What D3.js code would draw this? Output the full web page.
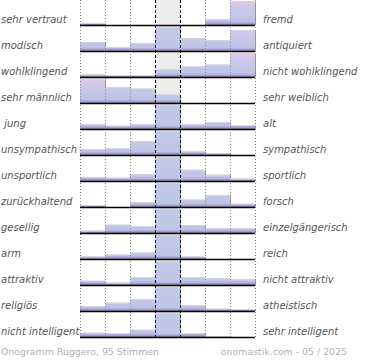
<!DOCTYPE html>
<html><head><meta charset="utf-8">
<script src="https://cdn.jsdelivr.net/npm/d3@7"></script>
<style>
html,body{margin:0;padding:0;background:#fff;}
svg{display:block;}
</style></head>
<body>
<script>
const leftLabels = ["sehr vertraut","modisch","wohlklingend","sehr männlich"," jung","unsympathisch","unsportlich","zurückhaltend","gesellig","arm","attraktiv","religiös","nicht intelligent"];
const rightLabels = ["fremd","antiquiert","nicht wohlklingend","sehr weiblich","alt","sympathisch","sportlich","forsch","einzelgängerisch","reich","nicht attraktiv","atheistisch","sehr intelligent"];
const columns = [1,2,3,4,5,6,7];
const values = [
  [2,0,0,0,0,6,24],
  [9,4,8,24,13,11,21],
  [2.5,2,2,7.5,10.5,12.5,24],
  [24,16,14.5,8.5,0,0,0],
  [5,3.3,5,24,5,7,4],
  [6,7,14,24,3.7,2,0],
  [4,3.3,6.7,24,11.3,6.3,2.3],
  [2,0,5,24,7.5,12,3.3],
  [2.3,8.3,7,24,8,5,5],
  [2.5,4.5,6.5,24,2.5,0,0],
  [4.3,2.3,7.7,24,7.7,6.7,5.7],
  [5,8.3,12,24,6,2.3,2],
  [4.3,4,7.3,24,4,1,0]
];
const footerLeft = "Onogramm Ruggero, 95 Stimmen";
const footerRight = "onomastik.com - 05 / 2025";

const W = 370, H = 360;
const svg = d3.select("body").append("svg").attr("width", W).attr("height", H);
const defs = svg.append("defs");

const x = d3.scaleBand().domain(columns).range([80,255]).padding(0);
const yRow = d3.scalePoint().domain(d3.range(leftLabels.length)).range([25,337]);
const rowH = 24;
const gridTop = 0, gridBottom = 337;
const midCol = 4;

// gradients per row (user space)
values.forEach((row,i)=>{
  const b = yRow(i);
  const g = defs.append("linearGradient").attr("id","g"+i)
    .attr("gradientUnits","userSpaceOnUse").attr("x1",0).attr("x2",0)
    .attr("y1",b-rowH).attr("y2",b);
  [[0,"#e2c6e6"],[0.3,"#cdc7e8"],[0.6,"#c3c8e8"],[0.86,"#bcc2e6"],[0.94,"#a59bd0"],[1,"#8a7cc0"]]
    .forEach(s=>g.append("stop").attr("offset",s[0]).attr("stop-color",s[1]));
  const m = defs.append("linearGradient").attr("id","m"+i)
    .attr("gradientUnits","userSpaceOnUse").attr("x1",0).attr("x2",0)
    .attr("y1",b-rowH).attr("y2",b);
  [[0,"#c2caea"],[0.86,"#bec6e8"],[0.94,"#a59bd0"],[1,"#8a7cc0"]]
    .forEach(s=>m.append("stop").attr("offset",s[0]).attr("stop-color",s[1]));
});

// middle column background
svg.append("rect").attr("x",x(midCol)).attr("y",gridTop).attr("width",x.bandwidth())
  .attr("height",gridBottom-gridTop).attr("fill","#ededed");

// bars
values.forEach((row,i)=>{
  const b = yRow(i);
  const h = d3.scaleLinear().domain([0,d3.max(row)]).range([0,rowH]);
  const g = svg.append("g");
  row.forEach((v,j)=>{
    const c = columns[j];
    if (v<=0) return;
    const hh = h(v);
    // right shadow
    g.append("rect").attr("x",x(c)+x.bandwidth()-0.2).attr("y",b-hh+0.5).attr("width",1.2).attr("height",hh-0.5)
      .attr("fill","#9a9a9a");
    g.append("rect").attr("x",x(c)).attr("y",b-hh).attr("width",x.bandwidth()).attr("height",hh)
      .attr("fill",c===midCol?`url(#m${i})`:`url(#g${i})`);
    g.append("line").attr("x1",x(c)).attr("x2",x(c)+x.bandwidth()).attr("y1",b-hh+0.5).attr("y2",b-hh+0.5)
      .attr("stroke","#d4d4d4").attr("stroke-width",1);
  });
});

// dotted grid lines
columns.concat([8]).forEach(c=>{
  const xx = c===8 ? x.range()[1] : x(c);
  if (c===midCol || c===midCol+1) return;
  svg.append("line").attr("x1",xx+0.5).attr("x2",xx+0.5).attr("y1",gridTop).attr("y2",gridBottom)
    .attr("stroke","#8a8a8a").attr("stroke-width",1).attr("stroke-dasharray","1,2");
});
// dashed middle lines
[midCol, midCol+1].forEach(c=>{
  svg.append("line").attr("x1",x(c)+0.5).attr("x2",x(c)+0.5).attr("y1",gridTop).attr("y2",gridBottom)
    .attr("stroke","#000").attr("stroke-width",1).attr("stroke-dasharray","3,2");
});

// baselines
values.forEach((row,i)=>{
  const b = yRow(i);
  svg.append("line").attr("x1",80).attr("x2",255).attr("y1",b+0.5).attr("y2",b+0.5)
    .attr("stroke","#000").attr("stroke-width",1.3);
});

// labels
const font = "'DejaVu Sans', Verdana, sans-serif";
svg.append("g").selectAll("text").data(leftLabels).join("text")
  .attr("x",1).attr("y",(d,i)=>yRow(i)-2.5)
  .attr("font-family",font).attr("font-size",10).attr("font-style","italic")
  .attr("fill","#555").attr("xml:space","preserve").style("white-space","pre").text(d=>d);
svg.append("g").selectAll("text").data(rightLabels).join("text")
  .attr("x",263).attr("y",(d,i)=>yRow(i)-2.5)
  .attr("font-family",font).attr("font-size",10).attr("font-style","italic")
  .attr("fill","#555").text(d=>d);

svg.append("text").attr("x",1).attr("y",355).attr("font-family",font).attr("font-size",9.4)
  .attr("fill","#b0b0b0").text(footerLeft);
svg.append("text").attr("x",347).attr("y",355).attr("text-anchor","end").attr("font-family",font).attr("font-size",9.4)
  .attr("fill","#b0b0b0").text(footerRight);
</script>
</body></html>
